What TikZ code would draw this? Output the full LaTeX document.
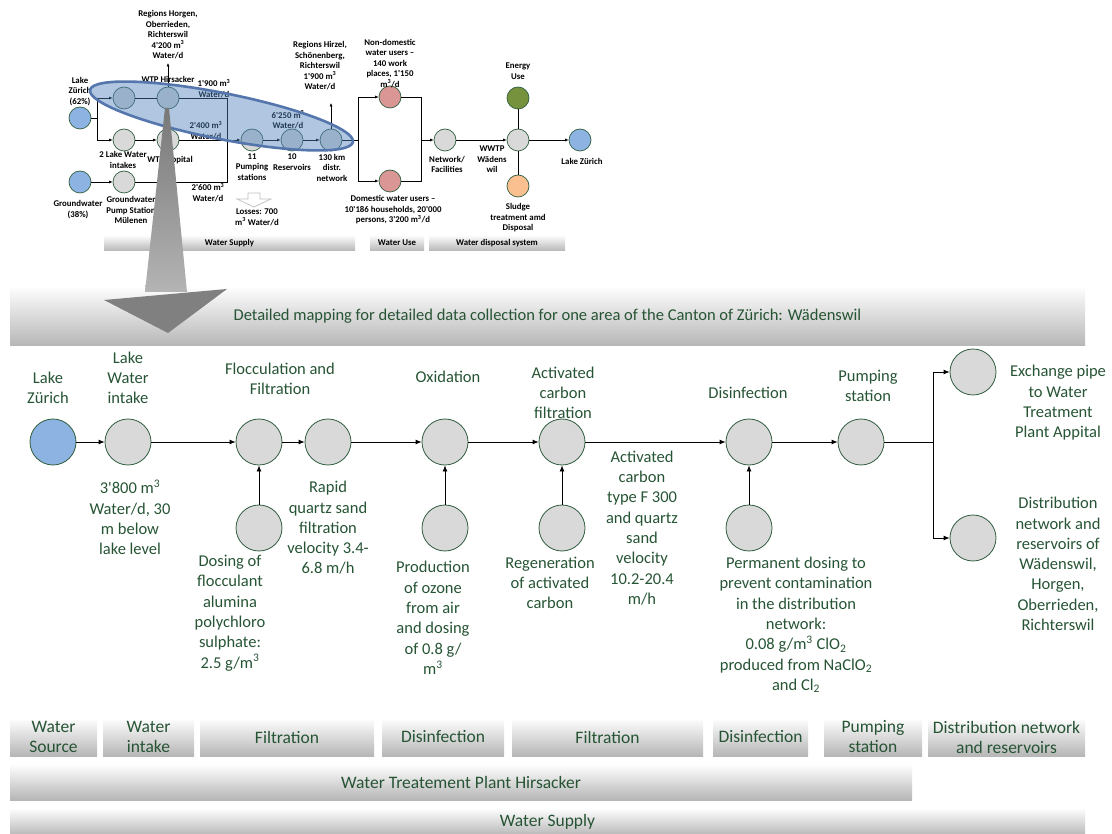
\documentclass[tikz,border=0pt]{standalone}
\usepackage{fontspec}
\setmainfont{Carlito}
\usetikzlibrary{arrows.meta}
\definecolor{txtg}{RGB}{38,84,52}
\definecolor{cedge}{RGB}{49,94,64}
\definecolor{cgray}{RGB}{217,217,217}
\definecolor{lblue}{RGB}{141,179,226}
\definecolor{cpink}{RGB}{217,150,148}
\definecolor{cgreen}{RGB}{118,146,60}
\definecolor{corange}{RGB}{250,192,144}
\definecolor{bargray}{RGB}{182,182,182}
\definecolor{hgray}{RGB}{191,191,191}
\definecolor{ellfill}{RGB}{79,129,189}
\definecolor{elledge}{RGB}{84,118,172}
\definecolor{shafttop}{RGB}{120,120,120}
\definecolor{shaftbot}{RGB}{180,180,180}
\definecolor{headgray}{RGB}{128,128,128}
\newcommand{\ap}{\textquotesingle}
\newcommand{\cube}{\textsuperscript{3}}
\tikzset{
  mc/.style={circle, minimum size=46pt, inner sep=0pt, draw=cedge, line width=0.8pt, fill=cgray},
  sc/.style={circle, minimum size=22pt, inner sep=0pt, draw=cedge, line width=0.7pt, fill=cgray},
  lbl/.style={align=center, text=txtg, font=\fontsize{16.5}{20.3}\selectfont, inner sep=0pt},
  slbl/.style={align=center, font=\bfseries\fontsize{8.8}{10.5}\selectfont, inner sep=0pt},
  marr/.style={-{Latex[length=6pt,width=5pt]}, line width=0.8pt},
  sarr/.style={-{Latex[length=3.5pt,width=3pt]}, line width=0.6pt},
  sline/.style={line width=0.6pt},
  bar/.style={top color=white, bottom color=bargray, text=txtg, align=center, inner sep=0pt,
    font=\fontsize{17.5}{20}\selectfont},
  sbar/.style={top color=white, bottom color=bargray, inner sep=0pt, minimum height=16pt,
    font=\bfseries\fontsize{8.8}{10.5}\selectfont},
}
\begin{document}
\begin{tikzpicture}[x=1pt,y=-1pt]
\useasboundingbox (0,0) rectangle (1112,834);

% ---------- overview of the water system ----------
\node[sc, fill=lblue] (tlz) at (80,118) {};
\node[sc, fill=lblue] (tgw) at (80,182) {};
\node[sc] (ti1) at (124,98) {};
\node[sc] (ti2) at (124,140) {};
\node[sc] (tgp) at (124,182) {};
\node[sc] (thi) at (168,98) {};
\node[sc] (tap) at (168,140) {};
\node[sc] (tps) at (252,140) {};
\node[sc] (trs) at (292,140) {};
\node[sc] (tdn) at (331,140) {};
\node[sc, fill=cpink] (tnd) at (390,97) {};
\node[sc, fill=cpink] (tdo) at (390,181) {};
\node[sc] (tnf) at (445,140) {};
\node[sc] (tww) at (518,140) {};
\node[sc, fill=cgreen] (ten) at (518,98) {};
\node[sc, fill=corange] (tsl) at (518,186) {};
\node[sc, fill=lblue] (tlk) at (580,140) {};
\coordinate (tj1) at (97,118);
\coordinate (tj2) at (227,182);
\coordinate (tj3) at (358,140);
\coordinate (tj4) at (421,140);
\coordinate (tu1) at (168,63);
\coordinate (tu2) at (331,103);

\draw[sline] (tlz) -- (tj1);
\draw[sarr] (tj1) |- (ti1);
\draw[sarr] (tj1) |- (ti2);
\draw[sarr] (tgw) -- (tgp);
\draw[sline] (ti1) -- (thi);
\draw[sarr] (ti2) -- (tap);
\draw[sline] (thi) -| (tj2) -- (tgp);
\draw[sarr] (thi) -- (tu1);
\draw[sarr] (tap) -- (tps);
\draw[sarr] (tps) -- (trs);
\draw[sarr] (trs) -- (tdn);
\draw[sarr] (tdn) -- (tu2);
\draw[sline] (tdn) -- (tj3);
\draw[sarr] (tj3) |- (tnd);
\draw[sarr] (tj3) |- (tdo);
\draw[sline] (tnd) -| (tj4);
\draw[sline] (tdo) -| (tj4);
\draw[sarr] (tj4) -- (tnf);
\draw[sarr] (tnf) -- (tww);
\draw[sarr] (tww) -- (tlk);
\draw[sline] (tww) -- (ten);
\draw[sline] (tww) -- (tsl);

% losses arrow
\draw[draw=hgray, fill=white, line width=0.7pt]
  (248,193) -- (260,193) -- (260,199) -- (271,199) -- (254,207) -- (237,199) -- (248,199) -- cycle;

\node[slbl] (lrh) at (168,35) {Regions Horgen,\\Oberrieden,\\Richterswil\\4\ap200 m\cube\\Water/d};
\node[slbl] (lhi) at (168,79) {WTP Hirsacker};
\node[slbl] (llz) at (80,91.5) {Lake\\Zürich\\(62\%)};
\node[slbl] (lli) at (123,160) {2 Lake Water\\intakes};
\node[slbl] (lap) at (170,160) {WTP Appital};
\node[slbl] (lgw) at (78,209.5) {Groundwater\\(38\%)};
\node[slbl] (lgp) at (131,210) {Groundwater\\Pump Station\\Mülenen};
\node[slbl] (lq1) at (214,88.5) {1\ap900 m\cube\\Water/d};
\node[slbl] (lq2) at (206,130.5) {2\ap400 m\cube\\Water/d};
\node[slbl] (lq3) at (208,192.5) {2\ap600 m\cube\\Water/d};
\node[slbl] (lq4) at (288,120) {6\ap250 m\cube\\Water/d};
\node[slbl] (lps) at (252,167) {11\\Pumping\\stations};
\node[slbl] (lrs) at (292,162) {10\\Reservoirs};
\node[slbl] (ldn) at (332,167.5) {130 km\\distr.\\network};
\node[slbl] (lls) at (257,217.5) {Losses: 700\\m\cube\ Water/d};
\node[slbl] (lhz) at (320,66) {Regions Hirzel,\\Schönenberg,\\Richterswil\\1\ap900 m\cube\\Water/d};
\node[slbl] (lnd) at (390,63.5) {Non-domestic\\water users \textendash\\140 work\\places, 1\ap150\\m\cube/d};
\node[slbl] (ldo) at (393,210) {Domestic water users \textendash\\10\ap186 households, 20\ap000\\persons, 3\ap200 m\cube/d};
\node[slbl] (len) at (518,71) {Energy\\Use};
\node[slbl] (lnf) at (447,164.5) {Network/\\Facilities};
\node[slbl] (lww) at (492,159.5) {WWTP\\Wädens\\wil};
\node[slbl] (lsl) at (518,218) {Sludge\\treatment amd\\Disposal};
\node[slbl] (llk) at (582,161) {Lake Zürich};

\node[sbar, minimum width=251pt] (tb1) at (229.5,243) {Water Supply};
\node[sbar, minimum width=54pt] (tb2) at (397,243) {Water Use};
\node[sbar, minimum width=136pt] (tb3) at (497,243) {Water disposal system};

% highlighted part of the supply chain
\draw[rotate around={-11.2:(221.5,116)}, fill=ellfill, fill opacity=0.45, draw=elledge, line width=2.6pt]
  (221.5,116) ellipse [x radius=134, y radius=23];

% ---------- detailed mapping banner and zoom arrow ----------
\node[bar, font=\fontsize{16.5}{20}\selectfont, minimum width=1075pt, minimum height=60pt] (mb) at (547.5,316)
  {Detailed mapping for detailed data collection for one area of the Canton of Zürich: Wädenswil};

\shade[top color=shafttop, bottom color=shaftbot] (165,108) -- (169,108) -- (187,292) -- (145,292) -- cycle;
\fill[headgray] (104,300) -- (227,289) -- (168,333) -- cycle;

% ---------- treatment chain of WTP Hirsacker ----------
\node[mc, fill=lblue] (lz) at (53,442) {};
\node[mc] (li) at (128,442) {};
\node[mc] (fl) at (259,442) {};
\node[mc] (rf) at (328,442) {};
\node[mc] (ox) at (445,442) {};
\node[mc] (ac) at (562,442) {};
\node[mc] (ds) at (749,442) {};
\node[mc] (ps) at (861,442) {};
\node[mc] (ex) at (973,372) {};
\node[mc] (dn) at (973,538) {};
\node[mc] (dfl) at (259,528) {};
\node[mc] (doz) at (445,528) {};
\node[mc] (dac) at (562,528) {};
\node[mc] (dds) at (749,528) {};
\coordinate (br) at (933,442);

\draw[marr] (lz) -- (li);
\draw[marr] (li) -- (fl);
\draw[marr] (fl) -- (rf);
\draw[marr] (rf) -- (ox);
\draw[marr] (ox) -- (ac);
\draw[marr] (ac) -- (ds);
\draw[marr] (ds) -- (ps);
\draw[line width=0.8pt] (ps) -- (br);
\draw[marr] (br) |- (ex);
\draw[marr] (br) |- (dn);
\draw[marr] (dfl) -- (fl);
\draw[marr] (doz) -- (ox);
\draw[marr] (dac) -- (ac);
\draw[marr] (dds) -- (ds);

\node[lbl] (tlz1) at (48,388) {Lake\\Zürich};
\node[lbl] (tli1) at (128,378) {Lake\\Water\\intake};
\node[lbl] (tli2) at (130,517.5) {3\ap800 m\cube\\Water/d, 30\\m below\\lake level};
\node[lbl] (tfl1) at (280,379) {Flocculation and\\Filtration};
\node[lbl] (tfl2) at (230,613) {Dosing of\\flocculant\\alumina\\polychloro\\sulphate:\\2.5 g/m\cube};
\node[lbl] (trf) at (328,528) {Rapid\\quartz sand\\filtration\\velocity 3.4-\\6.8 m/h};
\node[lbl] (tox1) at (448,377) {Oxidation};
\node[lbl] (tox2) at (433,618) {Production\\of ozone\\from air\\and dosing\\of 0.8 g/\\m\cube};
\node[lbl] (tac1) at (563,393) {Activated\\carbon\\filtration};
\node[lbl] (tac2) at (550,583) {Regeneration\\of activated\\carbon};
\node[lbl] (tac3) at (642,528) {Activated\\carbon\\type F 300\\and quartz\\sand\\velocity\\10.2-20.4\\m/h};
\node[lbl] (tds1) at (748,393) {Disinfection};
\node[lbl] (tds2) at (796,625) {Permanent dosing to\\prevent contamination\\in the distribution\\network:\\0.08 g/m\cube\ ClO\textsubscript{2}\\produced from NaClO\textsubscript{2}\\and Cl\textsubscript{2}};
\node[lbl] (tps1) at (868,386) {Pumping\\station};
\node[lbl] (tex) at (1058,403) {Exchange pipe\\to Water\\Treatment\\Plant Appital};
\node[lbl] (tdn) at (1058,564) {Distribution\\network and\\reservoirs of\\Wädenswil,\\Horgen,\\Oberrieden,\\Richterswil};

% ---------- stage bars ----------
\node[bar, minimum width=87pt, minimum height=38pt] (s1) at (53.5,737) {Water\\Source};
\node[bar, minimum width=91pt, minimum height=38pt] (s2) at (148.5,737) {Water\\intake};
\node[bar, minimum width=174pt, minimum height=38pt] (s3) at (287,737) {Filtration};
\node[bar, minimum width=122pt, minimum height=38pt] (s4) at (443,737) {Disinfection};
\node[bar, minimum width=191pt, minimum height=38pt] (s5) at (607.5,737) {Filtration};
\node[bar, minimum width=95pt, minimum height=38pt] (s6) at (760.5,737) {Disinfection};
\node[bar, minimum width=98pt, minimum height=38pt] (s7) at (873,737) {Pumping\\station};
\node[bar, minimum width=157pt, minimum height=38pt] (s8) at (1006.5,737) {Distribution network\\and reservoirs};
\node[bar, minimum width=902pt, minimum height=36pt] (r2) at (461,782) {Water Treatement Plant Hirsacker};
\node[bar, minimum width=1075pt, minimum height=28pt] (r3) at (547.5,822) {Water Supply};
\end{tikzpicture}
\end{document}
